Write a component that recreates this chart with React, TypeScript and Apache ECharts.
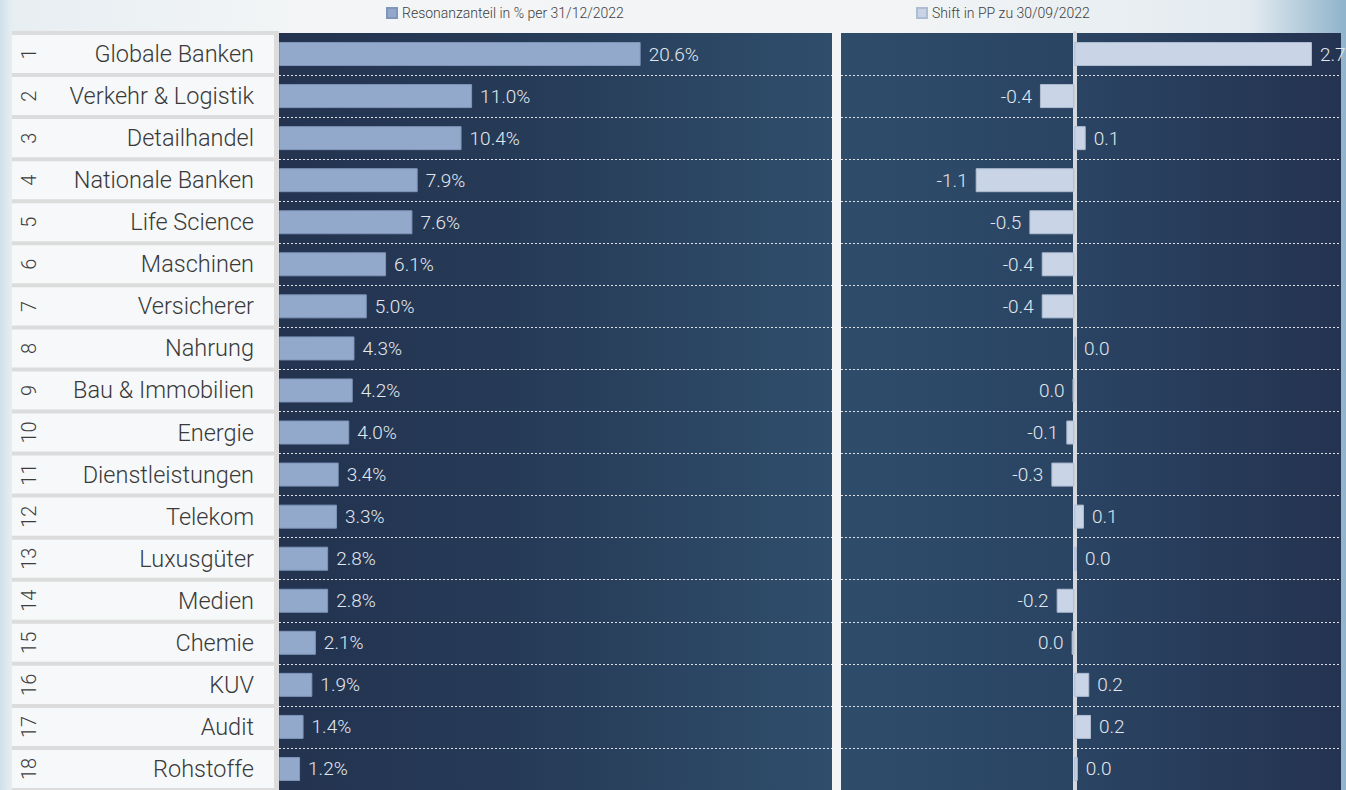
import React, { useEffect, useRef } from "react";
import * as echarts from "echarts";

const CATEGORIES = [
  "Globale Banken",
  "Verkehr & Logistik",
  "Detailhandel",
  "Nationale Banken",
  "Life Science",
  "Maschinen",
  "Versicherer",
  "Nahrung",
  "Bau & Immobilien",
  "Energie",
  "Dienstleistungen",
  "Telekom",
  "Luxusgüter",
  "Medien",
  "Chemie",
  "KUV",
  "Audit",
  "Rohstoffe",
];

const SHARE = [20.6, 11.0, 10.4, 7.9, 7.6, 6.1, 5.0, 4.3, 4.2, 4.0, 3.4, 3.3, 2.8, 2.8, 2.1, 1.9, 1.4, 1.2];

const SHIFT = [2.7, -0.39, 0.13, -1.12, -0.51, -0.37, -0.37, 0.02, -0.02, -0.09, -0.26, 0.11, 0.03, -0.2, -0.03, 0.17, 0.19, 0.04];

const LEGEND_SHARE = "Resonanzanteil in % per 31/12/2022";
const LEGEND_SHIFT = "Shift in PP zu 30/09/2022";

const FONT = "Roboto, 'Liberation Sans', sans-serif";

function fmtShift(v: number) {
  if (Math.abs(v) < 0.05) return "0.0";
  return v.toFixed(1);
}

export default function App() {
  const ref = useRef<HTMLDivElement>(null);

  useEffect(() => {
    if (!ref.current) return;
    const chart = echarts.init(ref.current, undefined, { renderer: "svg" });

    const labelStyle = {
      color: "#e2e8ef",
      fontSize: 19,
      fontFamily: FONT,
      fontWeight: 300 as any,
    };

    const legendText = { color: "#404040", fontSize: 14, fontFamily: FONT, fontWeight: 300 };

    const splitLine = {
      show: true,
      interval: (i: number) => i !== 0,
      lineStyle: { color: "rgba(255,255,255,0.85)", type: [2, 2], width: 1 },
    };

    const option: any = {
      animation: false,
      legend: [
        {
          data: [LEGEND_SHARE],
          left: 386,
          top: 6,
          padding: 0,
          icon: "rect",
          itemWidth: 10,
          itemHeight: 10,
          textStyle: legendText,
        },
        {
          data: [LEGEND_SHIFT],
          left: 916,
          top: 6,
          padding: 0,
          icon: "rect",
          itemWidth: 10,
          itemHeight: 10,
          textStyle: legendText,
        },
      ],
      graphic: [
        {
          type: "rect",
          left: 12,
          top: 31,
          shape: { width: 267, height: 770 },
          style: { fill: "#dcdcdc" },
          z: -1,
        },
      ],
      grid: [
        {
          left: 279,
          top: 33,
          width: 553,
          height: 761,
          show: true,
          borderWidth: 0,
          backgroundColor: new echarts.graphic.LinearGradient(0, 0, 1, 0, [
            { offset: 0, color: "#233350" },
            { offset: 0.45, color: "#263b57" },
            { offset: 1, color: "#2f4e6c" },
          ]),
        },
        {
          left: 841,
          top: 33,
          width: 500,
          height: 761,
          show: true,
          borderWidth: 0,
          backgroundColor: new echarts.graphic.LinearGradient(0, 0, 1, 0, [
            { offset: 0, color: "#2e4d6b" },
            { offset: 0.5, color: "#2a4362" },
            { offset: 1, color: "#243350" },
          ]),
        },
      ],
      xAxis: [
        { gridIndex: 0, type: "value", min: 0, max: 31.5, show: false },
        { gridIndex: 1, type: "value", min: -2.65, max: 3.03, show: false },
      ],
      yAxis: [
        {
          gridIndex: 0,
          type: "category",
          data: CATEGORIES,
          inverse: true,
          axisLine: { show: false },
          axisTick: { show: false },
          axisLabel: { show: false },
          splitLine,
        },
        {
          gridIndex: 1,
          type: "category",
          data: CATEGORIES,
          inverse: true,
          axisLine: { show: true, onZero: true, lineStyle: { color: "#d4d7db", width: 4 } },
          axisTick: { show: false },
          axisLabel: { show: false },
          splitLine,
        },
      ],
      series: [
        {
          name: LEGEND_SHARE,
          type: "bar",
          xAxisIndex: 0,
          yAxisIndex: 0,
          data: SHARE,
          barWidth: 24,
          itemStyle: { color: "#93a9cc", borderColor: "#7f95b9", borderWidth: 1 },
          label: {
            show: true,
            position: "right",
            distance: 8,
            formatter: (p: any) => Number(p.value).toFixed(1) + "%",
            ...labelStyle,
          },
        },
        {
          name: LEGEND_SHIFT,
          type: "bar",
          xAxisIndex: 1,
          yAxisIndex: 1,
          barWidth: 24,
          data: SHIFT.map((v) => ({
            value: v,
            label: { position: v < 0 ? "left" : "right" },
          })),
          itemStyle: { color: "#c9d4e6", borderColor: "#aebcd2", borderWidth: 1 },
          label: {
            show: true,
            distance: 8,
            formatter: (p: any) => fmtShift(Number(p.value)),
            ...labelStyle,
          },
        },
        {
          type: "custom",
          xAxisIndex: 0,
          yAxisIndex: 0,
          clip: false,
          silent: true,
          z: 5,
          data: CATEGORIES.map((c, i) => [0, i]),
          renderItem: (params: any, api: any) => {
            const idx = api.value(1);
            const pt = api.coord([0, idx]);
            const h = api.size([0, 1])[1];
            const y = pt[1];
            return {
              type: "group",
              children: [
                {
                  type: "rect",
                  shape: { x: 12, y: y - h / 2 + 2, width: 262, height: h - 4 },
                  style: { fill: "#f6f8f9" },
                },
                {
                  type: "text",
                  x: 29,
                  y: y,
                  rotation: Math.PI / 2,
                  style: {
                    text: String(idx + 1),
                    fill: "#3c3c3c",
                    fontSize: 20,
                    fontFamily: FONT,
                    fontWeight: 300,
                    align: "center",
                    verticalAlign: "middle",
                  },
                },
                {
                  type: "text",
                  x: 254,
                  y: y,
                  style: {
                    text: CATEGORIES[idx],
                    fill: "#3a3a3a",
                    fontSize: 23.5,
                    fontFamily: FONT,
                    fontWeight: 300,
                    align: "right",
                    verticalAlign: "middle",
                  },
                },
              ],
            };
          },
        },
      ],
    };

    chart.setOption(option);
    return () => chart.dispose();
  }, []);

  return (
    <div
      style={{
        position: "absolute",
        left: 0,
        top: 0,
        width: 1346,
        height: 790,
        background:
          "linear-gradient(90deg, #cfe0ea 0px, #e7eef2 12px, #f3f5f6 300px, #f2f4f5 900px, #e3ebf0 1250px, #8fb3cb 1346px)",
        overflow: "hidden",
      }}
    >
      <div ref={ref} style={{ width: 1346, height: 790 }} />
    </div>
  );
}
